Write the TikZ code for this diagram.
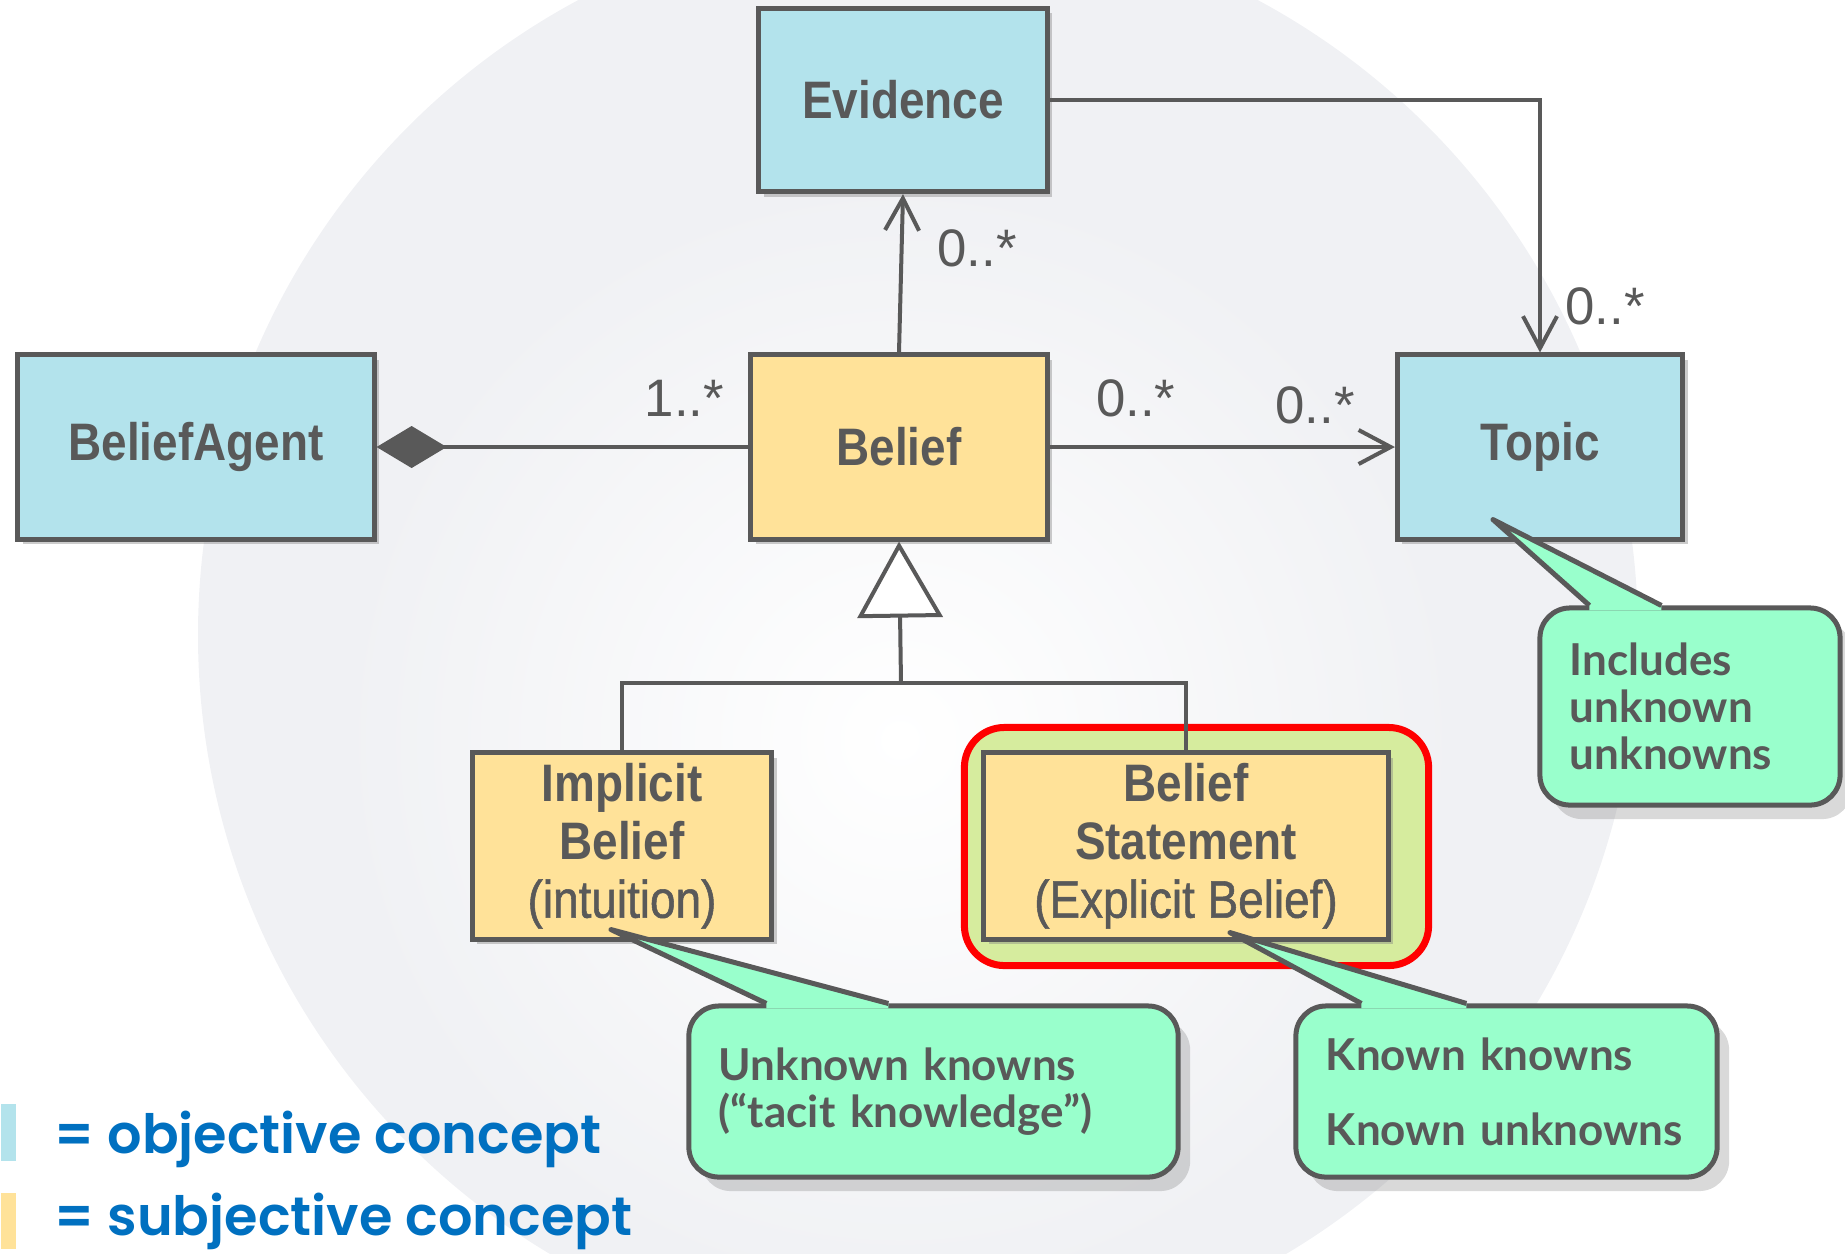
\documentclass[tikz,border=0pt]{standalone}
\usepackage{fontspec}
\usepackage{xcolor}
\usepackage{tikz}
\usetikzlibrary{positioning,arrows.meta,shadows,backgrounds}

\newfontfamily\boxfont[FakeStretch=0.87]{Liberation Sans}
\newfontfamily\boxsubfont[FakeStretch=0.87,FakeBold=1]{Liberation Sans}
\newfontfamily\multfont{Liberation Sans}
\newfontfamily\notefont{Lato}
\IfFontExistsTF{Poppins SemiBold}
    {\newfontfamily\keyfont{Poppins SemiBold}}
    {\newfontfamily\keyfont[FakeBold=1.5]{Poppins}}

\definecolor{objblue}{RGB}{179,227,236}
\definecolor{subjyellow}{RGB}{255,226,153}
\definecolor{linegray}{RGB}{89,89,89}
\definecolor{notegreen}{RGB}{153,255,204}
\definecolor{hilite}{RGB}{214,236,158}
\definecolor{keyblue}{RGB}{0,112,192}
\definecolor{wmgray}{RGB}{240,241,244}

\begin{document}
\begin{tikzpicture}[
    x=0.01cm, y=-0.01cm,
    concept/.style={draw=linegray, line width=0.05cm, text=linegray, align=center, inner sep=0pt,
        font=\boxfont\fontsize{15}{16.5}\selectfont\bfseries,
        drop shadow={shadow xshift=0.05cm, shadow yshift=-0.05cm, opacity=0.4}},
    objective/.style={concept, fill=objblue},
    subjective/.style={concept, fill=subjyellow},
    mult/.style={text=linegray, inner sep=0pt, font=\multfont\fontsize{15}{18}\selectfont},
    assoc/.style={draw=linegray, line width=0.04cm},
    note/.style={draw=linegray, fill=notegreen, line width=0.05cm, rounded corners=0.3cm,
        text=linegray, align=left, inner xsep=0.3cm, inner ysep=0pt,
        font=\notefont\fontsize{12.5}{13.4}\selectfont\bfseries,
        drop shadow={shadow xshift=0.12cm, shadow yshift=-0.14cm, opacity=0.3}},
    pointer/.style={draw=linegray, line width=0.05cm, line join=round},
    key/.style={text=keyblue, inner sep=0pt, anchor=base west, font=\keyfont\fontsize{15.4}{18}\selectfont}
]
\useasboundingbox (0,0) rectangle (1845,1253);

\begin{scope}[on background layer]
    \clip (0,0) rectangle (1845,1253);
    \fill[wmgray] (918,635) circle [radius=720];
    \shade[inner color=white, outer color=wmgray] (900,740) circle [radius=560];
\end{scope}

\node[objective, minimum width=2.88cm, minimum height=1.83cm] (evidence) at (903,100) {Evidence};
\node[objective, minimum width=3.56cm, minimum height=1.84cm] (agent) at (196,447) {BeliefAgent};
\node[subjective, minimum width=2.96cm, minimum height=1.84cm] (belief) at (899,447) {Belief};
\node[objective, minimum width=2.85cm, minimum height=1.84cm] (topic) at (1540,447) {Topic};
\node[subjective, minimum width=2.99cm, minimum height=1.86cm] (implicit) at (622,846)
    {Implicit\\Belief\\{\boxsubfont\mdseries(intuition)}};
\node[subjective, minimum width=4.04cm, minimum height=1.86cm] (statement) at (1186,846)
    {Belief\\Statement\\{\boxsubfont\mdseries(Explicit Belief)}};

\begin{scope}[on background layer]
    \draw[red, fill=hilite, line width=0.07cm, rounded corners=0.4cm]
        ([shift={(-17,-23)}]statement.north west) rectangle ([shift={(38,24)}]statement.south east);
\end{scope}

\coordinate (genjoin) at (901,683);
\draw[assoc, {Diamond[length=0.7cm, width=0.42cm]}-] (agent.east) -- (belief.west);
\draw[assoc, -{Straight Barb[length=0.32cm, width=0.34cm]}] (belief.north) -- (evidence.south);
\draw[assoc, -{Straight Barb[length=0.32cm, width=0.34cm]}] (belief.east) -- (topic.west);
\draw[assoc, -{Straight Barb[length=0.32cm, width=0.34cm]}] (evidence.east) -| (topic.north);
\draw[assoc] (implicit.north) |- (genjoin) -| (statement.north);
\draw[assoc, -{Triangle[length=0.76cm, width=0.85cm, fill=white]}] (genjoin) -- (belief.south);

\node[mult] (m1) at ([shift={(-64,-49)}]belief.west) {1..*};
\node[mult] (m2) at ([shift={(74,54)}]evidence.south) {0..*};
\node[mult] (m3) at ([shift={(86,-49)}]belief.east) {0..*};
\node[mult] (m4) at ([shift={(-80,-42)}]topic.west) {0..*};
\node[mult] (m5) at ([shift={(65,-46)}]topic.north) {0..*};

\node[note, minimum width=4.89cm, minimum height=1.71cm, text width=4.29cm] (tacit) at (933.5,1091.5)
    {Unknown knowns\\(“tacit knowledge”)};
\node[note, minimum width=4.21cm, minimum height=1.71cm, text width=3.61cm] (known) at (1506.5,1091.5)
    {Known knowns\\[0.28cm]Known unknowns};
\node[note, minimum width=3.0cm, minimum height=1.97cm, text width=2.4cm] (unknown) at (1690,706.5)
    {Includes\\unknown\\unknowns};

\coordinate (tip1) at ([shift={(-11,-12)}]implicit.south);
\coordinate (tip2) at ([shift={(44,-9)}]statement.south);
\coordinate (tip3) at ([shift={(-47,-22)}]topic.south);
\fill[notegreen] ([shift={(80,0)}]tacit.north west) -- (tip1) -- ([shift={(202,0)}]tacit.north west)
    -- ([shift={(202,5)}]tacit.north west) -- ([shift={(80,5)}]tacit.north west) -- cycle;
\draw[pointer] ([shift={(80,0)}]tacit.north west) -- (tip1) -- ([shift={(202,0)}]tacit.north west);
\fill[notegreen] ([shift={(68,0)}]known.north west) -- (tip2) -- ([shift={(173,0)}]known.north west)
    -- ([shift={(173,5)}]known.north west) -- ([shift={(68,5)}]known.north west) -- cycle;
\draw[pointer] ([shift={(68,0)}]known.north west) -- (tip2) -- ([shift={(173,0)}]known.north west);
\fill[notegreen] ([shift={(52,0)}]unknown.north west) -- (tip3) -- ([shift={(124,0)}]unknown.north west)
    -- ([shift={(124,5)}]unknown.north west) -- ([shift={(52,5)}]unknown.north west) -- cycle;
\draw[pointer] ([shift={(52,0)}]unknown.north west) -- (tip3) -- ([shift={(124,0)}]unknown.north west);

\node[fill=objblue, inner sep=0pt, minimum width=0.15cm, minimum height=0.57cm, anchor=north west] (objswatch) at (0,1103) {};
\node[fill=subjyellow, inner sep=0pt, minimum width=0.15cm, minimum height=0.56cm, anchor=north west] (subjswatch) at (0,1192) {};
\node[key] (objkey) at (54,1153) {= objective concept};
\node[key] (subjkey) at (54,1235) {= subjective concept};
\end{tikzpicture}
\end{document}
